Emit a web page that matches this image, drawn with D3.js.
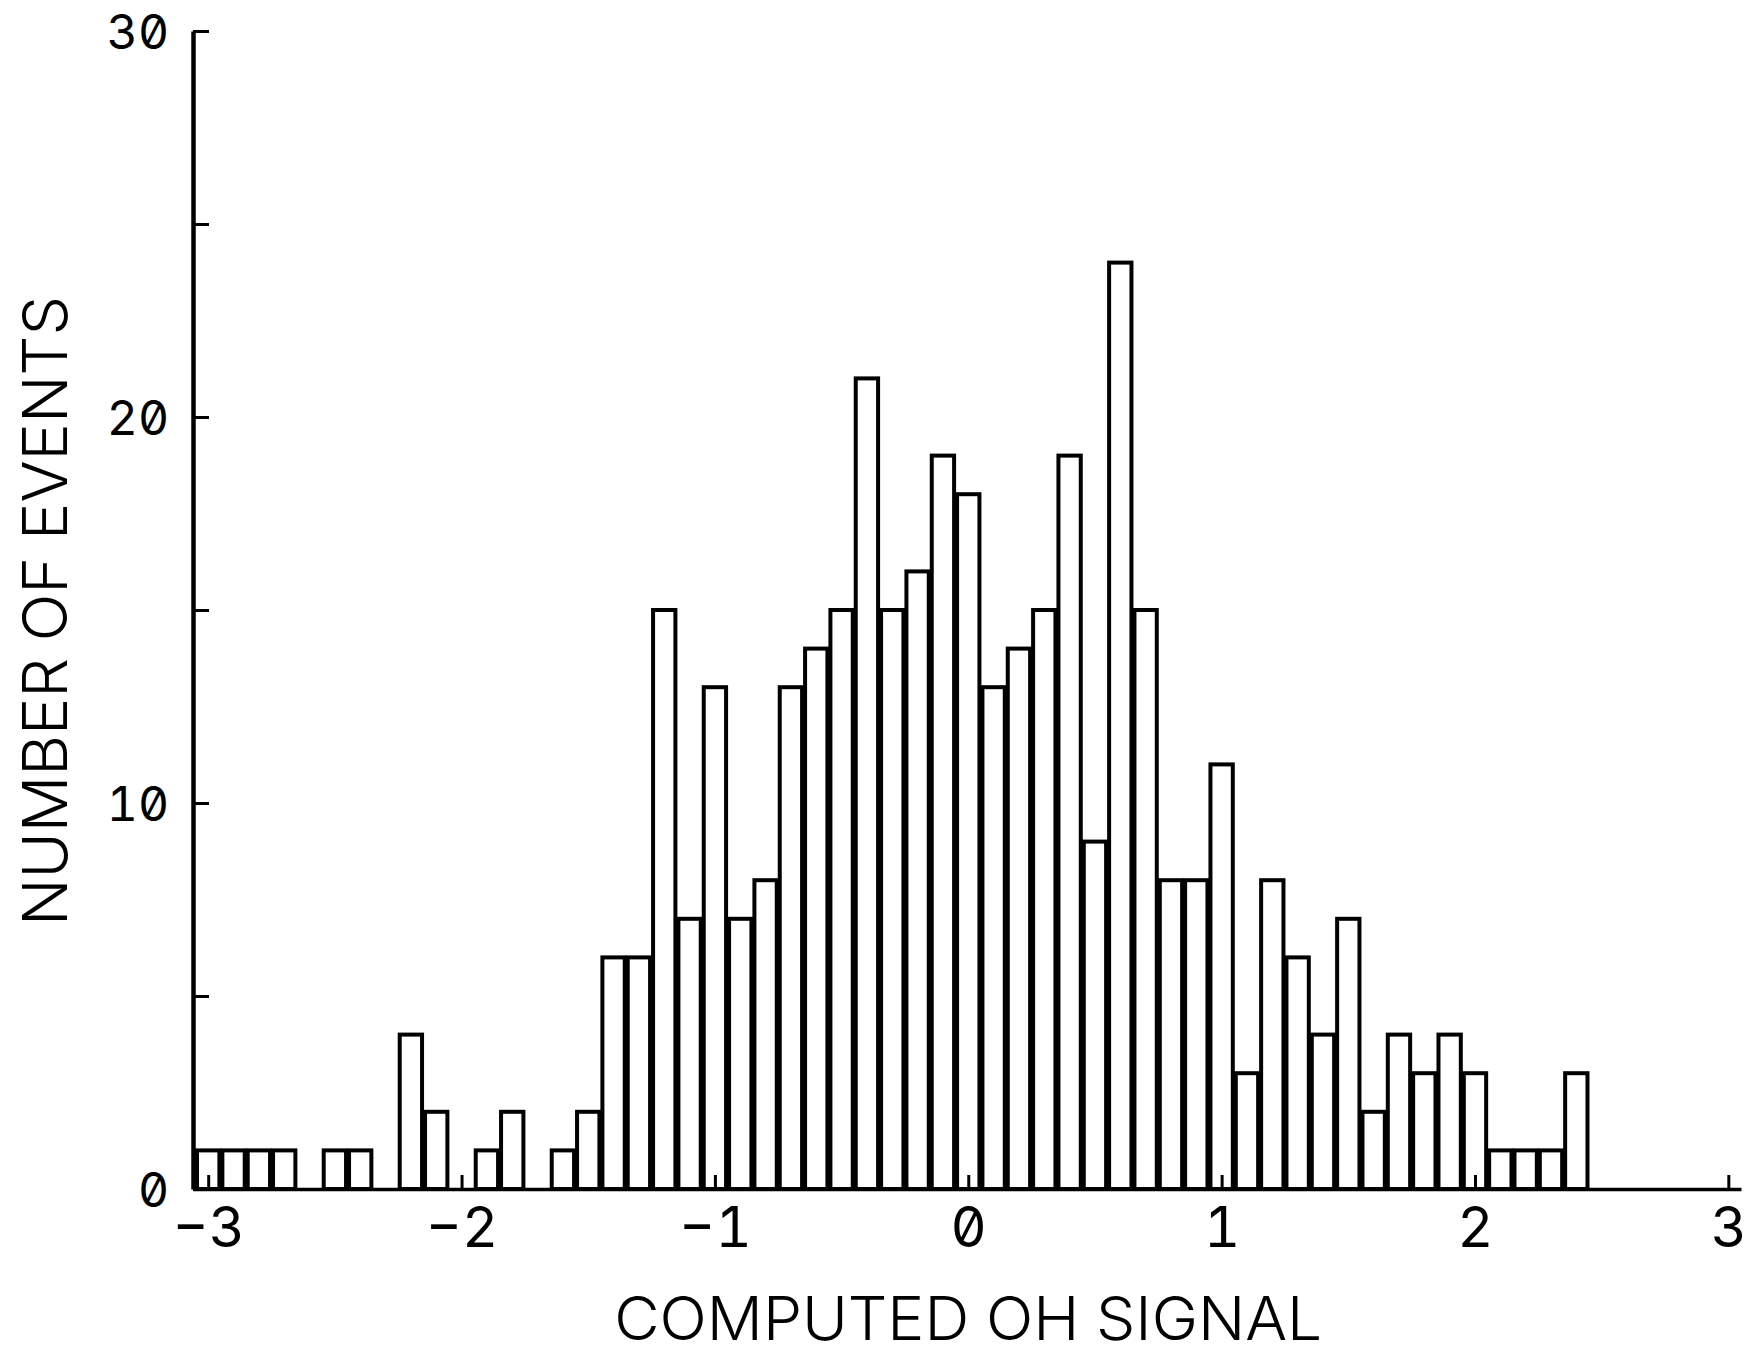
<!DOCTYPE html>
<html>
<head>
<meta charset="utf-8">
<script src="https://cdn.jsdelivr.net/npm/d3@7"></script>
<style>
  body { margin: 0; background: #fff; }
  svg { display: block; }
  .lbl { font-family: Inter, "DejaVu Sans", sans-serif; font-weight: 300; font-feature-settings: "zero" 1, "tnum" 1; fill: #000; }
  .num { font-weight: 400; }
</style>
</head>
<body>
<svg id="chart"></svg>
<script>
// histogram bins (centre of each 0.1-wide bin) and event counts
const binCenters = [
  -3.0, -2.9, -2.8, -2.7, -2.6, -2.5, -2.4, -2.3, -2.2, -2.1,
  -2.0, -1.9, -1.8, -1.7, -1.6, -1.5, -1.4, -1.3, -1.2, -1.1,
  -1.0, -0.9, -0.8, -0.7, -0.6, -0.5, -0.4, -0.3, -0.2, -0.1,
   0.0,  0.1,  0.2,  0.3,  0.4,  0.5,  0.6,  0.7,  0.8,  0.9,
   1.0,  1.1,  1.2,  1.3,  1.4,  1.5,  1.6,  1.7,  1.8,  1.9,
   2.0,  2.1,  2.2,  2.3,  2.4
];
const counts = [
  1, 1, 1, 1, 0, 1, 1, 0, 4, 2,
  0, 1, 2, 0, 1, 2, 6, 6, 15, 7,
  13, 7, 8, 13, 14, 15, 21, 15, 16, 19,
  18, 13, 14, 15, 19, 9, 24, 15, 8, 8,
  11, 3, 8, 6, 4, 7, 2, 4, 3, 4,
  3, 1, 1, 1, 3
];
const binWidth = 0.1;
const xTicks = [-3, -2, -1, 0, 1, 2, 3];
const yTicks = [0, 5, 10, 15, 20, 25, 30];
const yLabelled = [0, 10, 20, 30];
const xTitle = "COMPUTED OH SIGNAL";
const yTitle = "NUMBER OF EVENTS";

const W = 1750, H = 1356;
const svg = d3.select("#chart").attr("width", W).attr("height", H);

const x = d3.scaleLinear().domain([-3.06, 3.05]).range([193, 1741]);
const y = d3.scaleLinear().domain([0, 30]).range([1189, 31]);

const bins = binCenters.map((c, i) => ({ c, n: counts[i] })).filter((d) => d.n > 0);

// bars: open rectangles, each outlined on its own
svg.append("g")
  .selectAll("rect")
  .data(bins)
  .join("rect")
  .attr("x", (d) => x(d.c - binWidth / 2) + 1.5)
  .attr("width", (d) => x(d.c + binWidth / 2) - x(d.c - binWidth / 2) - 3)
  .attr("y", (d) => y(d.n))
  .attr("height", (d) => y(0) - y(d.n))
  .attr("fill", "none")
  .attr("stroke", "#000")
  .attr("stroke-width", 4);

// x axis, ticks point up into the plot
const gx = svg.append("g")
  .attr("transform", `translate(0,${y(0)})`)
  .call(d3.axisBottom(x).tickValues(xTicks).tickSize(-14).tickSizeOuter(0).tickPadding(18).tickFormat(d3.format("d")));
gx.select(".domain").attr("stroke-width", 3.5);
gx.selectAll(".tick line").attr("stroke-width", 3);
gx.selectAll(".tick text").attr("class", "lbl num").attr("font-size", 56);

// y axis, ticks point right
const gy = svg.append("g")
  .attr("transform", `translate(${x(-3.06)},0)`)
  .call(d3.axisLeft(y).tickValues(yTicks).tickSize(-16).tickSizeOuter(0).tickPadding(24)
    .tickFormat((d) => (yLabelled.includes(d) ? d : "")));
gy.select(".domain").attr("stroke-width", 4.5);
gy.selectAll(".tick line").attr("stroke-width", 3);
gy.selectAll(".tick text").attr("class", "lbl num").attr("font-size", 48).attr("dy", "0.36em");

// titles
svg.append("text")
  .attr("class", "lbl")
  .attr("x", x(0))
  .attr("y", 1340)
  .attr("text-anchor", "middle")
  .attr("font-size", 60)
  .attr("textLength", 708)
  .attr("lengthAdjust", "spacingAndGlyphs")
  .text(xTitle);

svg.append("text")
  .attr("class", "lbl")
  .attr("transform", `translate(67,${(296 + 926) / 2}) rotate(-90)`)
  .attr("text-anchor", "middle")
  .attr("font-size", 62)
  .attr("textLength", 630)
  .attr("lengthAdjust", "spacingAndGlyphs")
  .text(yTitle);
</script>
</body>
</html>
